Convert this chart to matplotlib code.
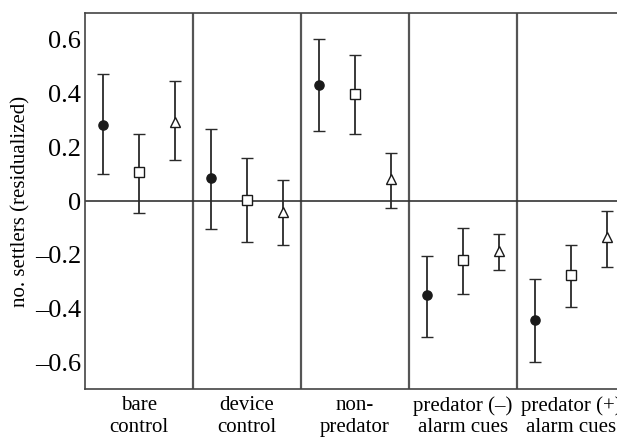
import numpy as np
import matplotlib
matplotlib.use("Agg")
import matplotlib.pyplot as plt

# categories along x
categories = ["bare\ncontrol", "device\ncontrol", "non-\npredator",
              "predator (\u2013)\nalarm cues", "predator (+)\nalarm cues"]

# mean and error-bar ends for the three series (circle, square, triangle)
circle_mean = [0.285, 0.085, 0.433, -0.350, -0.443]
circle_low = [0.100, -0.104, 0.260, -0.506, -0.600]
circle_high = [0.474, 0.270, 0.603, -0.204, -0.290]

square_mean = [0.107, 0.002, 0.400, -0.220, -0.277]
square_low = [-0.045, -0.154, 0.250, -0.347, -0.393]
square_high = [0.250, 0.160, 0.544, -0.099, -0.163]

triangle_mean = [0.295, -0.040, 0.082, -0.187, -0.134]
triangle_low = [0.152, -0.163, -0.027, -0.258, -0.247]
triangle_high = [0.447, 0.077, 0.180, -0.121, -0.037]

yticks = [-0.6, -0.4, -0.2, 0, 0.2, 0.4, 0.6]
ytick_labels = ["\u20130.6", "\u20130.4", "\u20130.2", "0", "0.2", "0.4", "0.6"]

plt.rcParams['font.family'] = ['Liberation Serif', 'DejaVu Serif']

fig = plt.figure(figsize=(6.17, 4.37), dpi=100)
ax = fig.add_axes([0.138, 0.110, 0.875, 0.860])

x = np.arange(len(categories))
series = [
    (circle_mean, circle_low, circle_high, -0.333, "o", "#1a1a1a", 6.6),
    (square_mean, square_low, square_high, 0.0, "s", "white", 7.2),
    (triangle_mean, triangle_low, triangle_high, 0.333, "^", "white", 7.8),
]
for mean, low, high, off, mk, fc, ms in series:
    mean = np.array(mean)
    err = [mean - np.array(low), np.array(high) - mean]
    ax.errorbar(x + off, mean, yerr=err, fmt=mk, color="#2a2a2a",
                mfc=fc, mec="#1a1a1a", ms=ms, mew=1.0, elinewidth=1.3,
                capsize=4, capthick=1.2, zorder=3)

# group dividers and zero line
for d in x[:-1] + 0.5:
    ax.axvline(d, color="#555555", lw=1.6, zorder=1)
ax.axhline(0, color="#333333", lw=1.2, zorder=1)

ax.set_xlim(-0.5, 4.5)
ax.set_ylim(-0.7, 0.7)
ax.set_xticks(x)
ax.set_xticklabels(categories, fontsize=15, linespacing=1.2)
ax.set_yticks(yticks)
ax.set_yticklabels(ytick_labels, fontsize=19)
ax.tick_params(axis="both", length=0, pad=5)
ax.tick_params(axis="y", pad=3)
ax.set_ylabel("no. settlers (residualized)", fontsize=15, labelpad=3)

for s in ax.spines.values():
    s.set_color("#444444")
    s.set_linewidth(1.2)

fig.savefig("out.png", dpi=100)
